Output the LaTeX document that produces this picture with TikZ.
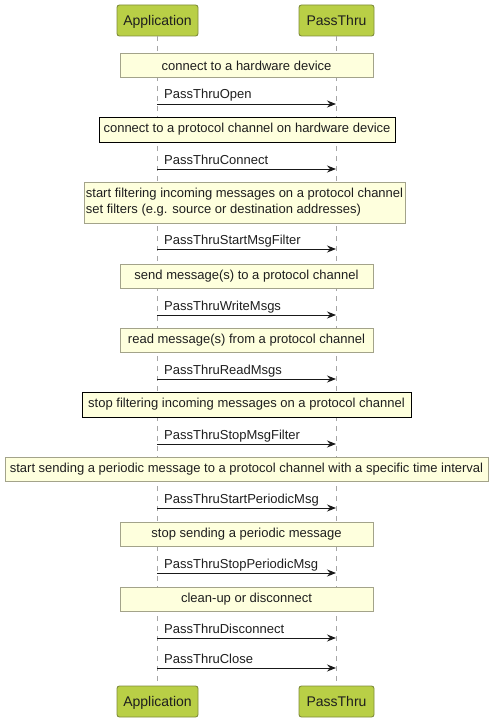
\documentclass[tikz,border=0pt]{standalone}
\usepackage{fontspec}
\setmainfont{Liberation Sans}
\usetikzlibrary{arrows.meta}
\definecolor{partfill}{HTML}{B9CF46}
\definecolor{partdraw}{HTML}{7F8C3A}
\definecolor{notefill}{HTML}{FEFFDD}
\definecolor{notedraw}{HTML}{A3A38A}
\definecolor{lifecol}{HTML}{A6A6A6}
\definecolor{txtcol}{HTML}{1E1E1E}
\tikzset{
  part/.style={draw=partdraw, fill=partfill, rounded corners=2.5bp, line width=0.9bp,
    minimum height=31bp, inner sep=0pt, text depth=0pt, text=txtcol, font=\fontsize{14bp}{16bp}\selectfont},
  notebox/.style={draw=notedraw, fill=notefill, line width=0.8bp, inner sep=0pt,
    minimum height=24bp, text=txtcol, font=\fontsize{13bp}{16bp}\selectfont},
  darknote/.style={notebox, draw=black},
  lifeline/.style={draw=lifecol, line width=0.9bp, dash pattern=on 5bp off 5bp},
  msg/.style={draw=black!90, line width=0.9bp, -{Stealth[length=9bp,width=7bp,inset=3bp]}},
  msglabel/.style={anchor=base west, inner sep=0pt, text=txtcol, font=\fontsize{13bp}{15bp}\selectfont}
}
\begin{document}
\begin{tikzpicture}[x=1bp,y=-1bp]
\useasboundingbox (0,0) rectangle (495,723);
% participants
\node[part, minimum width=81bp] (appT) at (157.5,20.5) {Application};
\node[part, minimum width=75bp] (ptT) at (336.5,20.5) {PassThru};
\node[part, minimum width=81bp] (appB) at (157.5,701.5) {Application};
\node[part, minimum width=75bp] (ptB) at (336.5,701.5) {PassThru};
% lifelines
\coordinate (appL1) at (157,36); \coordinate (appL2) at (157,686);
\coordinate (ptL1) at (336,36); \coordinate (ptL2) at (336,686);
\draw[lifeline] (appL1) -- (appL2);
\draw[lifeline] (ptL1) -- (ptL2);
% notes
\node[notebox, minimum width=253bp] (n1) at (246.5,65.5) {connect to a hardware device};
\node[darknote, minimum width=296bp, minimum height=25bp] (n2) at (247,129.5) {connect to a protocol channel on hardware device};
\node[notebox, minimum width=321bp, minimum height=41bp, align=left] (n3) at (244.5,202.5) {start filtering incoming messages on a protocol channel\\set filters (e.g. source or destination addresses)};
\node[notebox, minimum width=253bp] (n4) at (246.5,276) {send message(s) to a protocol channel};
\node[notebox, minimum width=253bp] (n5) at (246.5,340) {read message(s) from a protocol channel};
\node[darknote, minimum width=329bp, minimum height=25bp] (n6) at (246.5,404.5) {stop filtering incoming messages on a protocol channel};
\node[notebox, minimum width=483bp] (n7) at (246.5,469) {start sending a periodic message to a protocol channel with a specific time interval};
\node[notebox, minimum width=253bp] (n8) at (246.5,534) {stop sending a periodic message};
\node[notebox, minimum width=253bp] (n9) at (246.5,599) {clean-up or disconnect};
% messages
\foreach \i/\yy/\lab in {1/104/PassThruOpen, 2/169/PassThruConnect, 3/249/PassThruStartMsgFilter,
  4/315/PassThruWriteMsgs, 5/379/PassThruReadMsgs, 6/444/PassThruStopMsgFilter,
  7/508/PassThruStartPeriodicMsg, 8/573/PassThruStopPeriodicMsg, 9/638/PassThruDisconnect,
  10/668/PassThruClose}{
  \coordinate (ms\i) at (157,\yy);
  \coordinate (me\i) at (336,\yy);
  \draw[msg] (ms\i) -- (me\i);
  \node[msglabel] (ml\i) at (164,\yy-5) {\lab};
}
\end{tikzpicture}
\end{document}
